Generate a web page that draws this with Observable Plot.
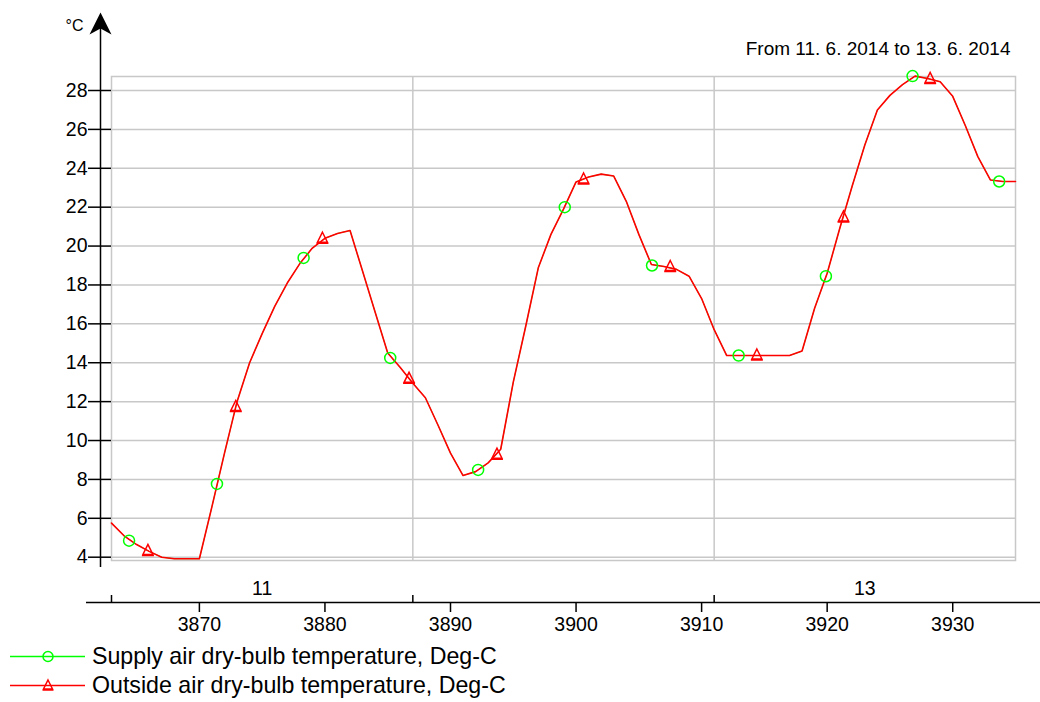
<!DOCTYPE html>
<html>
<head>
<meta charset="utf-8">
<script src="https://cdn.jsdelivr.net/npm/d3@7"></script>
<script src="https://cdn.jsdelivr.net/npm/@observablehq/plot@0.6"></script>
<style>
  body { margin: 0; background: #ffffff; font-family: "Liberation Sans", Arial, sans-serif; }
  #wrap { position: relative; width: 1040px; height: 702px; overflow: hidden; }
  #chart svg { display: block; }
  .lg { position: absolute; left: 0; height: 29px; width: 1040px; }
  .lg svg { position: absolute; left: 0; top: 0; }
  .lg span { position: absolute; left: 92px; top: 0; line-height: 29px; font-size: 23.2px; color: #000; white-space: nowrap; }
</style>
</head>
<body>
<div id="wrap">
  <div id="chart"></div>
  <div id="legend"></div>
</div>
<script>
// ---- data ----
const hours = [3863,3864,3865,3866,3867,3868,3869,3870,3871,3872,3873,3874,3875,3876,3877,3878,3879,3880,
  3881,3882,3883,3884,3885,3886,3887,3888,3889,3890,3891,3892,3893,3894,3895,3896,3897,3898,3899,3900,
  3901,3902,3903,3904,3905,3906,3907,3908,3909,3910,3911,3912,3913,3914,3915,3916,3917,3918,3919,3920,
  3921,3922,3923,3924,3925,3926,3927,3928,3929,3930,3931,3932,3933,3934,3935];
const outsideTemp = [5.75,5.1,4.65,4.3,4.0,3.92,3.92,3.92,6.6,9.35,12.0,14.0,15.5,16.9,18.1,19.1,19.9,20.4,
  20.65,20.8,18.7,16.6,14.5,13.75,12.95,12.2,10.8,9.35,8.2,8.4,8.85,9.55,13.0,15.9,18.9,20.6,21.9,23.3,
  23.55,23.7,23.6,22.3,20.6,19.05,18.95,18.8,18.45,17.3,15.7,14.37,14.37,14.37,14.37,14.37,14.37,14.6,16.8,18.6,
  20.9,23.1,25.2,27.0,27.75,28.3,28.74,28.62,28.45,27.7,26.2,24.6,23.4,23.32,23.32];
const supplyTemp = [5.75,5.1,4.65,4.3,4.0,3.92,3.92,3.92,6.6,9.35,12.0,14.0,15.5,16.9,18.1,19.1,19.9,20.4,
  20.65,20.8,18.7,16.6,14.5,13.75,12.95,12.2,10.8,9.35,8.2,8.4,8.85,9.55,13.0,15.9,18.9,20.6,21.9,23.3,
  23.55,23.7,23.6,22.3,20.6,19.05,18.95,18.8,18.45,17.3,15.7,14.37,14.37,14.37,14.37,14.37,14.37,14.6,16.8,18.6,
  20.9,23.1,25.2,27.0,27.75,28.3,28.74,28.62,28.45,27.7,26.2,24.6,23.4,23.32,23.32];
const supplyMarkerHours = [3864.4,3871.4,3878.3,3885.2,3892.2,3899.1,3906.05,3912.95,3919.9,3926.8,3933.7];
const supplyMarkerTemps = [4.85,7.77,19.39,14.25,8.49,22.0,19.0,14.37,18.45,28.74,23.32];
const outsideMarkerHours = [3865.9,3872.9,3879.8,3886.7,3893.7,3900.6,3907.5,3914.4,3921.3,3928.2];
const outsideMarkerTemps = [4.35,11.75,20.4,13.2,9.3,23.45,18.95,14.4,21.5,28.62];

const yTicks = [4,6,8,10,12,14,16,18,20,22,24,26,28];
const xTicks = [3870,3880,3890,3900,3910,3920,3930];
const dayBoundaries = [3863,3887,3911];
const dayGrid = [3887,3911];
const dayLabelHours = [3875,3923];
const dayLabels = ["11","13"];
const titleText = "From 11. 6. 2014 to 13. 6. 2014";
const unitLabel = "°C";
const seriesNames = ["Supply air dry-bulb temperature, Deg-C","Outside air dry-bulb temperature, Deg-C"];
const seriesColors = ["#00ff00","#ff0000"];

// ---- scales ----
const xDomain = [3863, 3935];
const yDomain = [3.83, 28.72];
const pxPerY = (560 - 76) / (yDomain[1] - yDomain[0]);
const pxPerX = (1015 - 111) / (xDomain[1] - xDomain[0]);
const axisOffset = 42; // x axis line below the frame, px

const lineRows = hours.map((h, i) => ({h, out: outsideTemp[i], sup: supplyTemp[i]}));
const supRows = supplyMarkerHours.map((h, i) => ({h, v: supplyMarkerTemps[i]}));
const outRows = outsideMarkerHours.map((h, i) => ({h, v: outsideMarkerTemps[i]}));

const arrowSymbol = {draw(ctx) { ctx.moveTo(0, 0); ctx.lineTo(11, 22); ctx.lineTo(0, 16); ctx.lineTo(-11, 22); ctx.closePath(); }};
const triSymbol = {draw(ctx) { ctx.moveTo(0, -6); ctx.lineTo(5, 4); ctx.lineTo(-5, 4); ctx.closePath(); ctx.moveTo(-6, 5); ctx.lineTo(6, 5); }};

const chart = Plot.plot({
  width: 1040,
  height: 640,
  marginLeft: 111,
  marginRight: 25,
  marginTop: 76,
  marginBottom: 80,
  style: {fontFamily: "'Liberation Sans', Arial, sans-serif", fontSize: "19px", color: "#000", background: "#fff", overflow: "visible"},
  x: {domain: xDomain, axis: null},
  y: {domain: yDomain, axis: null},
  marks: [
    Plot.ruleY(yTicks, {stroke: "#c8c8c8", strokeWidth: 1.5}),
    Plot.ruleX(dayGrid, {stroke: "#c8c8c8", strokeWidth: 1.5}),
    Plot.frame({stroke: "#c8c8c8", strokeWidth: 1.5}),
    // y axis
    Plot.axisY({ticks: yTicks, tickSize: 23, tickPadding: 1, label: null, stroke: "#000", strokeWidth: 1.5, fontSize: 19.5}),
    Plot.ruleX([xDomain[0]], {y1: yDomain[0] - 7 / pxPerY, y2: yDomain[1] + 48 / pxPerY, dx: -11, stroke: "#000", strokeWidth: 1.5}),
    Plot.dot([xDomain[0]], {x: d => d, y: () => yDomain[1] + 64 / pxPerY, dx: -11, symbol: arrowSymbol, fill: "#000", stroke: "none"}),
    Plot.text([unitLabel], {frameAnchor: "top-left", dx: -37, dy: -51, textAnchor: "middle", lineAnchor: "middle", fontSize: 16, text: d => d}),
    // x axis
    Plot.ruleY([yDomain[0]], {x1: xDomain[0] - 25 / pxPerX, x2: xDomain[1] + 25 / pxPerX, dy: axisOffset, stroke: "#000", strokeWidth: 1.5}),
    Plot.axisX({ticks: xTicks, tickFormat: "d", tickSize: 10, tickPadding: 5, dy: axisOffset, label: null, stroke: "#000", strokeWidth: 1.5, fontSize: 19.5}),
    Plot.ruleX(dayBoundaries, {y1: yDomain[0], y2: yDomain[0] + 7 / pxPerY, dy: axisOffset, stroke: "#000", strokeWidth: 1.5}),
    Plot.text(dayLabels, {x: (d, i) => dayLabelHours[i], y: () => yDomain[0], dy: 28, text: d => d, fontSize: 19.5}),
    // title
    Plot.text([titleText], {frameAnchor: "top-right", dx: -5, dy: -28, textAnchor: "end", lineAnchor: "middle", text: d => d, fontSize: 19}),
    // series
    Plot.line(lineRows, {x: "h", y: "sup", stroke: seriesColors[0], strokeWidth: 0.8}),
    Plot.line(lineRows, {x: "h", y: "out", stroke: seriesColors[1], strokeWidth: 1.6}),
    Plot.dot(supRows, {x: "h", y: "v", r: 5.5, stroke: seriesColors[0], fill: "none", strokeWidth: 1.5}),
    Plot.dot(outRows, {x: "h", y: "v", symbol: triSymbol, stroke: seriesColors[1], fill: "none", strokeWidth: 1.5})
  ]
});
document.getElementById("chart").appendChild(chart);

// ---- legend ----
const legend = document.getElementById("legend");
const rowTops = [641.5, 670.5];
seriesNames.forEach((name, i) => {
  const row = document.createElement("div");
  row.className = "lg";
  row.style.top = rowTops[i] + "px";
  const c = seriesColors[i];
  const marker = i === 0
    ? `<circle cx="48" cy="14.5" r="5" fill="none" stroke="${c}" stroke-width="1.5"/>`
    : `<path d="M48,9 L52.5,18 L43.5,18 Z M42.5,19 L53.5,19" fill="none" stroke="${c}" stroke-width="1.5"/>`;
  row.innerHTML = `<svg width="90" height="29"><line x1="10" x2="85" y1="14.5" y2="14.5" stroke="${c}" stroke-width="1.5"/>${marker}</svg><span>${name}</span>`;
  legend.appendChild(row);
});
</script>
</body>
</html>
